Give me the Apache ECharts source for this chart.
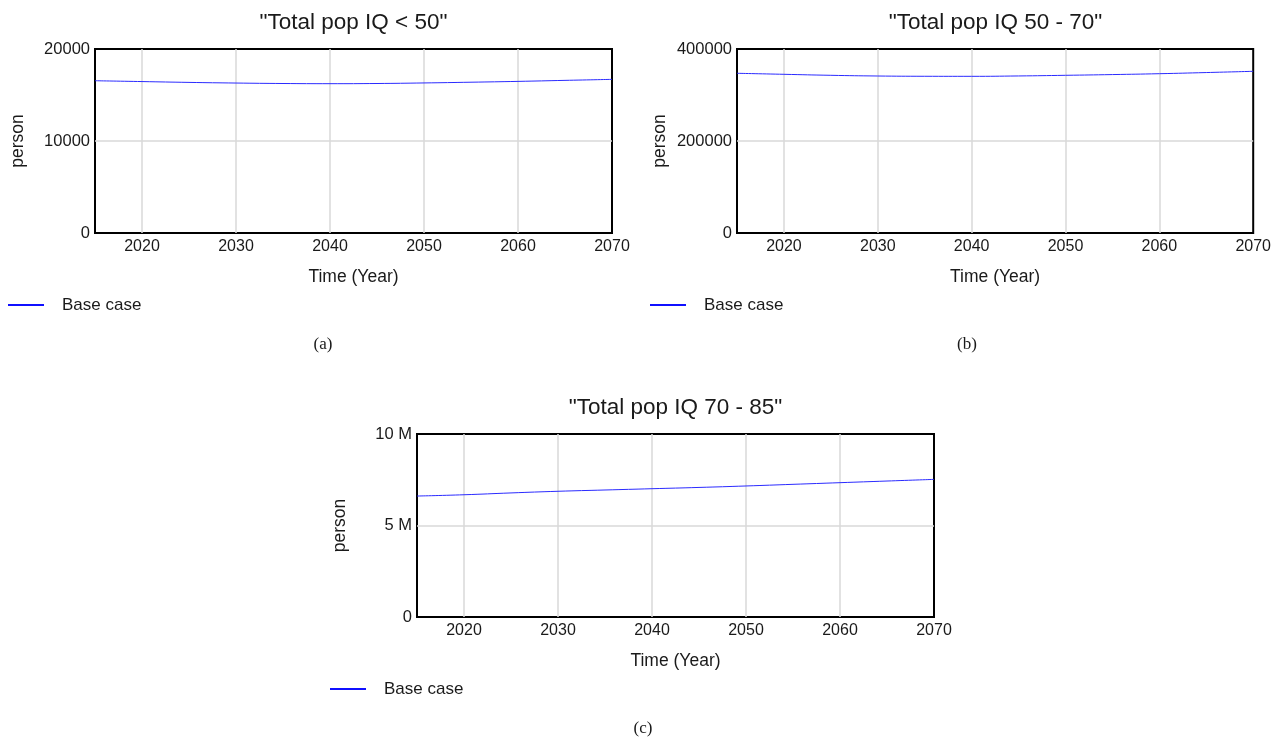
<!DOCTYPE html>
<html>
<head>
<meta charset="utf-8">
<script src="https://cdn.jsdelivr.net/npm/echarts@6/dist/echarts.min.js"></script>
<style>
  html, body { margin: 0; padding: 0; background: #fff; }
  #main { width: 1274px; height: 739px; }
</style>
</head>
<body>
<div id="main"></div>
<script>
// values, every 5 years
const years = [2015, 2020, 2025, 2030, 2035, 2040, 2045, 2050, 2055, 2060, 2065, 2070]
const popIqBelow50 = [16550, 16460, 16370, 16300, 16250, 16230, 16250, 16310, 16390, 16480, 16590, 16700]
const popIq50to70 = [347200, 345000, 342800, 341300, 340700, 340600, 341400, 342800, 344400, 346300, 348800, 351500]
const popIq70to85 = [6610000, 6680000, 6780000, 6870000, 6940000, 7010000, 7080000, 7160000, 7250000, 7340000, 7430000, 7520000]
const xTicks = [2020, 2030, 2040, 2050, 2060, 2070]
const titles = ['"Total pop IQ < 50"', '"Total pop IQ 50 - 70"', '"Total pop IQ 70 - 85"']
const captions = ['(a)', '(b)', '(c)']
const yMax = [20000, 400000, 10000000]

const FONT = '"Liberation Sans", Arial, sans-serif'
const TEXT = '#1a1a1a'
const GRID = '#d9d9d9'

const panels = [
  { left: 95, top: 49, width: 517, height: 184, data: popIqBelow50, caption: [323, 345] },
  { left: 737, top: 49, width: 517, height: 184, data: popIq50to70, caption: [967, 345] },
  { left: 417, top: 434, width: 517, height: 183, data: popIq70to85, caption: [643, 729] }
]

const fmtY = (v, i) => i === 2
  ? (v === 0 ? '0' : (v / 1e6) + ' M')
  : String(v)

const option = {
  animation: false,
  textStyle: { fontFamily: FONT },
  grid: panels.map(p => ({
    left: p.left, top: p.top, width: p.width, height: p.height,
    show: true, borderColor: '#000', borderWidth: 2, backgroundColor: 'transparent'
  })),
  xAxis: panels.map((p, i) => ({
    type: 'value', gridIndex: i, min: 2015, max: 2070,
    name: 'Time (Year)', nameLocation: 'middle', nameGap: 35,
    nameTextStyle: { fontSize: 17.5, color: TEXT, fontFamily: FONT },
    axisLine: { show: false },
    axisTick: { show: false, customValues: xTicks },
    axisLabel: { customValues: xTicks, fontSize: 16, color: TEXT, margin: 6, fontFamily: FONT, formatter: v => String(v) },
    splitLine: { show: true, showMinLine: true, showMaxLine: false, lineStyle: { color: GRID, width: 1.5 } }
  })),
  yAxis: panels.map((p, i) => ({
    type: 'value', gridIndex: i, min: 0, max: yMax[i], interval: yMax[i] / 2,
    name: 'person', nameLocation: 'middle', nameGap: 68, nameRotate: 90,
    nameTextStyle: { fontSize: 17.5, color: TEXT, fontFamily: FONT },
    axisLine: { show: false },
    axisTick: { show: false },
    axisLabel: { fontSize: 16.5, color: TEXT, margin: 5, fontFamily: FONT, formatter: v => fmtY(v, i) },
    splitLine: { show: true, showMinLine: false, showMaxLine: false, lineStyle: { color: GRID, width: 1.5 } }
  })),
  legend: panels.map((p, i) => ({
    data: ['Base case'],
    left: p.left - 92, top: p.top + p.height + 58.5,
    icon: 'rect', itemWidth: 36, itemHeight: 2,
    selectedMode: false,
    textStyle: { fontSize: 17, color: TEXT, fontFamily: FONT, padding: [0, 0, 0, 13] }
  })),
  series: panels.map((p, i) => ({
    name: 'Base case', type: 'line', xAxisIndex: i, yAxisIndex: i,
    data: years.map((y, k) => [y, p.data[k]]),
    smooth: true, showSymbol: false,
    lineStyle: { color: '#2a2aff', width: 1 },
    itemStyle: { color: '#1010ff' }
  })),
  graphic: panels.flatMap((p, i) => [
    {
      type: 'text', x: p.left + p.width / 2, y: p.top - 26,
      style: { text: titles[i], fontSize: 22.5, fill: TEXT, fontFamily: FONT, textAlign: 'center', textVerticalAlign: 'middle' }
    },
    {
      type: 'text', x: p.caption[0], y: p.caption[1],
      style: { text: captions[i], fontSize: 17, fill: TEXT, fontFamily: '"Liberation Serif", "Times New Roman", serif', textAlign: 'center', textVerticalAlign: 'middle' }
    }
  ])
}

const chart = echarts.init(document.getElementById('main'))
chart.setOption(option)
</script>
</body>
</html>
